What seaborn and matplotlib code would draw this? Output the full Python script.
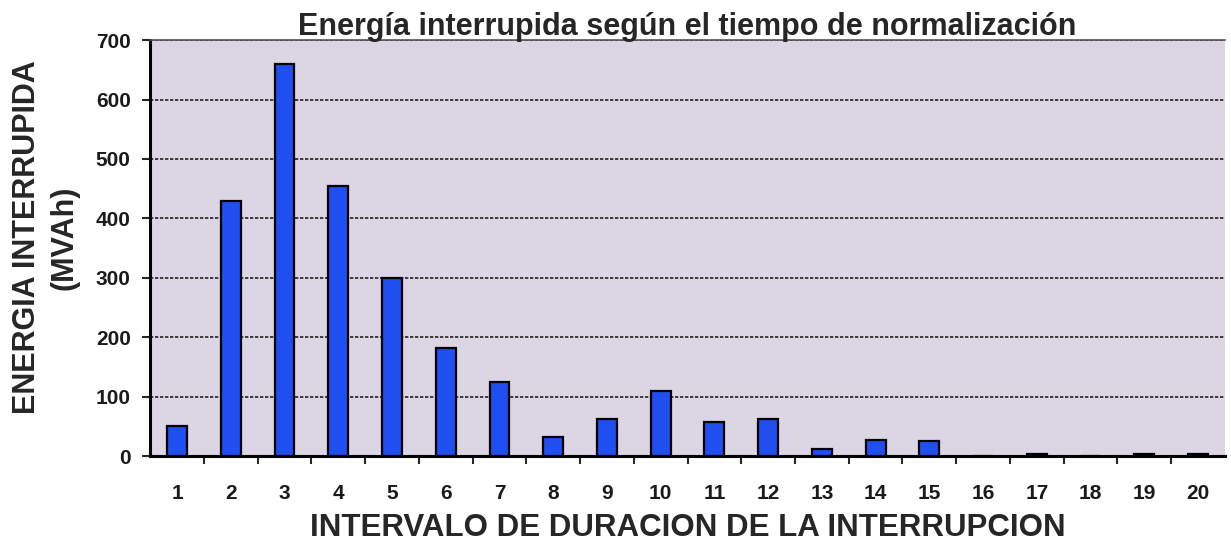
import matplotlib
matplotlib.use('Agg')
import matplotlib.pyplot as plt
import pandas as pd
import numpy as np
import seaborn as sns

# datos
intervalos = [str(i) for i in range(1, 21)]
energia = [50, 430, 660, 455, 300, 182, 125, 33, 62, 110,
           58, 62, 12, 27, 26, 1, 4, 0, 3, 4]

df = pd.DataFrame({'intervalo': intervalos, 'energia': energia})

sns.set_style('white')
plt.rcParams['font.family'] = ['Liberation Sans', 'DejaVu Sans']

fig = plt.figure(figsize=(12.31, 5.49), dpi=100)
ax = fig.add_axes([0.122, 0.169, 0.873, 0.758])
ax.set_facecolor('#dcd5e3')

sns.barplot(data=df, x='intervalo', y='energia', color='#1f4ff0',
            saturation=1, width=0.37, edgecolor='black', linewidth=1.6, ax=ax)

ax.set_ylim(0, 700)
ax.set_xlim(-0.5, 19.5)
ax.set_yticks(range(0, 701, 100))
ax.yaxis.grid(True, color='#222222', linestyle=(0, (2, 1)), linewidth=1.2)
ax.set_axisbelow(True)

# marcas del eje x entre categorias
ax.set_xticks(np.arange(0.5, 19.5, 1), minor=True)
ax.tick_params(axis='x', which='major', length=0, pad=20, labelsize=15)
ax.tick_params(axis='x', which='minor', length=6, width=1.5, direction='out', bottom=True)
ax.tick_params(axis='y', length=6, width=1.5, direction='out', left=True, labelsize=15, pad=8)
for lbl in ax.get_xticklabels() + ax.get_yticklabels():
    lbl.set_fontweight('bold')
    lbl.set_color('#1a1a1a')

for s in ['left', 'bottom']:
    ax.spines[s].set_color('black')
    ax.spines[s].set_linewidth(2.2)
ax.spines['top'].set_color('#555555')
ax.spines['top'].set_linewidth(1.2)
ax.spines['right'].set_visible(False)

ax.set_title('Energía interrupida según el tiempo de normalización',
             fontsize=22, fontweight='bold', pad=4)
ax.set_xlabel('INTERVALO DE DURACION DE LA INTERRUPCION', fontsize=22.5,
              fontweight='bold', labelpad=7)
ax.set_ylabel('ENERGIA INTERRUPIDA\n(MVAh)', fontsize=22, fontweight='bold',
              linespacing=1.3, va='center', ha='center')
ax.yaxis.set_label_coords(-0.097, 0.526)

fig.savefig('out.png', dpi=100, facecolor='white')
